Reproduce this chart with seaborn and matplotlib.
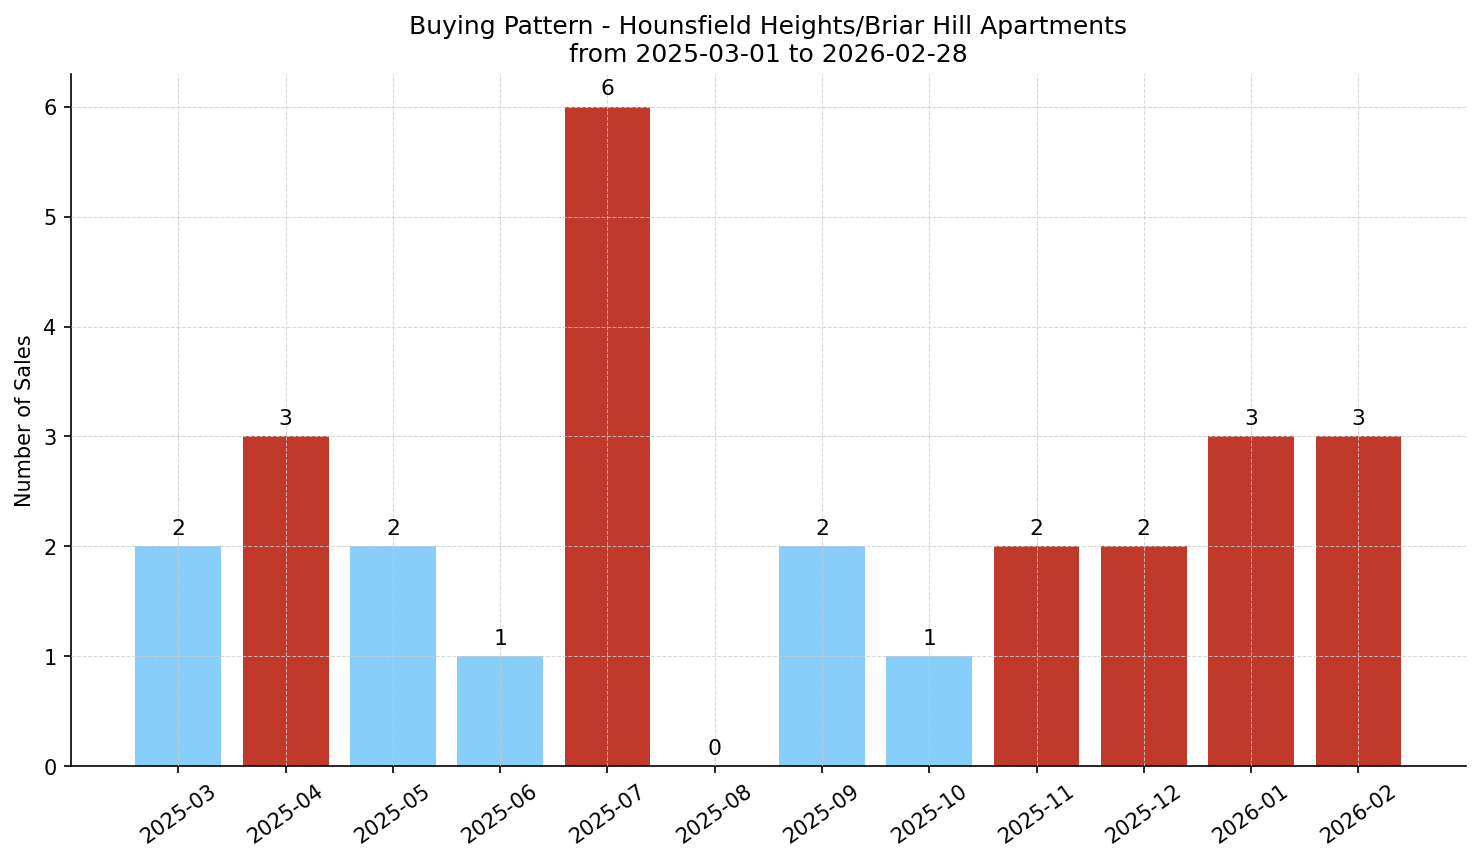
import pandas as pd
import seaborn as sns
import matplotlib
matplotlib.use("Agg")
import matplotlib.pyplot as plt

months = ["2025-03", "2025-04", "2025-05", "2025-06", "2025-07", "2025-08",
          "2025-09", "2025-10", "2025-11", "2025-12", "2026-01", "2026-02"]
sales = [2, 3, 2, 1, 6, 0, 2, 1, 2, 2, 3, 3]
high = [False, True, False, False, True, False, False, False, True, True, True, True]

BLUE = "#87CEFA"
RED = "#C0392B"

data = pd.DataFrame({"month": months, "sales": sales})
colors = [RED if h else BLUE for h in high]

plt.rcParams['font.family'] = ['DejaVu Sans']

fig, ax = plt.subplots(figsize=(9.87, 5.75), dpi=150)
sns.barplot(data=data, x="month", y="sales", hue="month", palette=colors,
            legend=False, width=0.8, saturation=1, ax=ax)

for i, v in enumerate(sales):
    ax.text(i, v + 0.07, str(v), ha="center", va="bottom", fontsize=10.5)

ax.grid(True, linestyle="--", color="#cccccc", alpha=0.8, linewidth=0.5)
ax.set_axisbelow(False)
ax.set_ylim(0, 6.3)
ax.set_xlim(-1, 12)
ax.set_xlabel("")
ax.set_ylabel("Number of Sales")
ax.set_title("Buying Pattern - Hounsfield Heights/Briar Hill Apartments\nfrom 2025-03-01 to 2026-02-28")
plt.setp(ax.get_xticklabels(), rotation=35)
sns.despine(ax=ax)

fig.subplots_adjust(left=0.048, right=0.990, top=0.914, bottom=0.111)
fig.savefig("out.png", dpi=150)
